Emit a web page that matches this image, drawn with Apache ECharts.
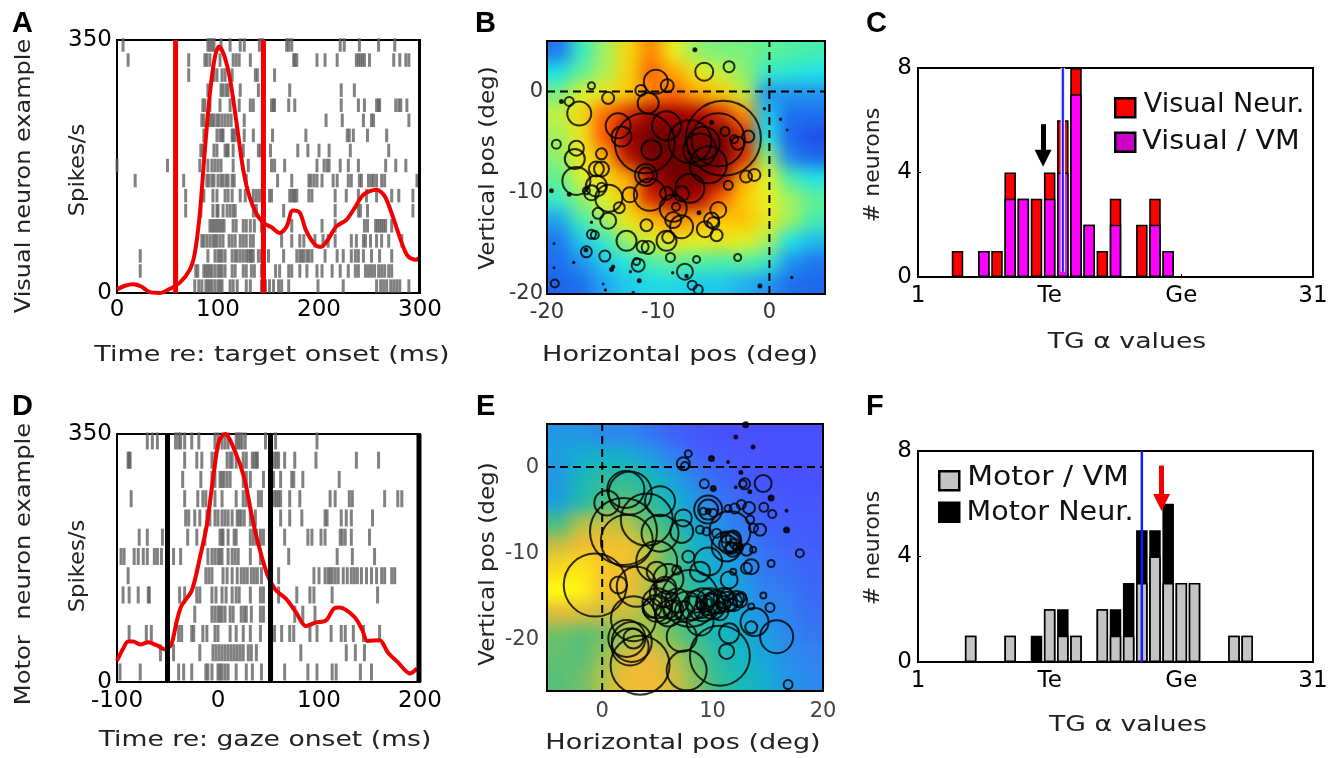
<!DOCTYPE html>
<html><head><meta charset="utf-8">
<script src="https://cdn.jsdelivr.net/npm/echarts@6/dist/echarts.min.js"></script>
<style>
html,body{margin:0;padding:0;background:#fff;width:1341px;height:758px;overflow:hidden}
#main{position:absolute;left:0;top:0;width:1341px;height:758px;z-index:2}
.clip{position:absolute;overflow:hidden;z-index:1}
.heat{position:absolute;filter:blur(8px)}
</style></head><body>
<div class="clip" style="left:547px;top:41px;width:278px;height:253px"><div id="heatB" class="heat" style="left:-23px;top:-21px;width:324px;height:295px"></div></div>
<div class="clip" style="left:547px;top:424px;width:276px;height:267px"><div id="heatE" class="heat" style="left:-23px;top:-22px;width:322px;height:311px"></div></div>
<div id="main"></div>
<script>
// ---------- Panel A ----------
const rasterA = [
 [6,90,92,94,96,103,112,122,126,141,144,168,170,173,221,225,240,259,275],
 [11,71,87,89,92,102,115,118,121,132,175,176,178,198,206,218,237,239,241,243,245,250,274,280,286,289],
 [71,96,99,104,107,114,137,139,156],
 [90,103,105,108,110,122,140,171,222,235],
 [85,87,92,102,112,121,132,135,153,155,156,170,176,222,239,245,257,259,260,276,279,281,287],
 [84,86,92,94,96,99,101,104,107,110,113,126,207,223,244,252,254,289],
 [86,99,102,104,105,114,115,117,126,135,154,187,228,230,234,248,267],
 [83,85,96,99,107,109,110,115,125,140,142,152,179,189,200,210,231,269],
 [0,50,82,90,94,97,100,103,115,130,153,156,166,198,205,208,210,221,229,239,266,276,286],
 [18,66,89,91,94,96,100,103,105,108,110,114,116,128,159,173,190,192,195,198,203,214,218,229,232,240,242,249,252,254,257,262,265,297],
 [68,86,95,99,107,110,114,122,127,135,138,141,151,153,171,173,175,176,178,190,193,216,227,239,247,257,272,279,293],
 [68,83,95,99,100,105,109,112,115,117,135,138,165,216,239,241,248,293],
 [92,94,96,98,100,102,104,106,115,118,125,128,132,136,143,173,203,216,245,248,256,258,260,262,264,266,272],
 [84,86,89,92,95,97,99,102,105,111,114,117,122,125,128,132,135,163,173,181,185,196,204,209,216,232,237,244,246,251,257,262,269,282],
 [23,90,97,100,102,104,107,114,117,119,122,125,128,130,132,133,135,140,143,150,165,178,181,183,185,188,190,193,206,218,224,232,236,239,244,252,260,272],
 [23,78,80,86,88,90,92,94,97,100,102,104,107,114,117,125,128,133,136,143,157,161,170,173,181,188,198,203,213,221,229,236,239,246,249,252,255,259,262,265,269,272],
 [77,81,84,88,90,92,94,97,100,102,104,112,115,119,128,132,143,147,151,155,160,163,170,199,224,257,261,264,267,271,274,277,280,289]
];
const rateA = [[0,5],[8,10],[16,12],[24,9],[32,1.4],[42,0],[52,5.5],[62,14],[72,32],[77,55],[82,110],[87,198],[92,276],[97,327],[101,341],[106,329],[112,295],[118,239],[125,170],[131,134],[138,110],[145,97],[153,91],[161,83],[168,92],[174,114],[181,111],[187,87],[196,67],[202,64],[209,74],[217,92],[227,101],[235,117],[244,136],[257,143],[265,134],[273,106],[282,69],[288,51],[296,46],[300,49]];
const markersA = [58,145];
// ---------- Panel D ----------
const rasterD = [
 [-70,-65,-60,-42,-39,-37,-33,-26,-19,-3,0,4,7,10,18,20,22,24,27,47,57,98],
 [-89,-88,-87,-33,-21,-16,-6,-3,9,12,14,18,25,28,34,36,38,39,53,56,58,60,66,76,97,137,159],
 [-35,-17,-6,-3,2,4,6,9,12,25,28,32,45,55,62,73,75,84,120],
 [-86,-33,-20,-15,-12,-3,4,18,25,28,40,43,53,56,58,60,62,71,81,111,116,130,133,165,178,182],
 [-32,-29,-23,-18,-11,-8,-3,0,4,7,10,14,19,21,23,26,32,37,53,62,71,83,106,108,122,127,132,153],
 [-78,-70,-55,-30,-21,-13,2,4,5,10,16,18,32,35,38,42,45,53,66,89,93,102,106,121,123,126,132,150],
 [-96,-93,-83,-79,-74,-70,-63,-60,-56,-44,-37,-10,-6,-3,0,2,4,10,14,17,20,32,42,70,118,133,155],
 [-89,-12,-9,-6,5,9,14,19,23,26,29,33,36,39,43,52,60,95,100,106,109,111,113,116,119,124,128,132,135,138,142,147,152,157,162,165,172,175],
 [-94,-88,-79,-69,-68,-38,-33,-21,-18,-6,-2,4,8,14,18,21,32,42,45,60,78,91,95,113,158],
 [-23,-6,-3,0,2,4,7,12,15,23,26,28,33,42,45,76,84,96],
 [-88,-71,-66,-39,-36,-26,-24,-15,-11,-3,0,12,18,25,32,42,53,56,63,71,75,91,98,112,122,126,134,144,160],
 [-57,-44,-18,-5,-2,1,4,7,10,13,16,19,22,25,30,33,38,82,127,136,145],
 [-97,-77,-39,-34,-26,-12,-10,-6,0,2,4,7,10,18,28,34,43,66,89,98,113,117,141,152]
];
const rateD = [[-100,30],[-94,47],[-89,57],[-84,57],[-77,53],[-69,56],[-61,52],[-52,46],[-46,54],[-41,85],[-36,108],[-26,129],[-18,175],[-11,222],[-4,297],[1,340],[7,350],[17,325],[26,288],[34,231],[41,189],[49,151],[57,130],[67,118],[77,99],[87,79],[97,84],[107,87],[115,104],[120,105],[135,92],[143,73],[148,58],[160,59],[168,42],[178,28],[190,12],[197,19]];
const markersD = [-50,52,199];
// ---------- Panel B ----------
const fieldB = [
 [10,35,50,65,75,60,48,45,45,42,40,38],
 [30,42,52,66,78,72,62,55,48,35,32,30],
 [45,58,62,68,75,78,72,68,55,15,15,15],
 [55,65,78,85,92,92,90,85,75,25,8,8],
 [50,62,80,92,100,100,98,100,85,30,5,0],
 [48,62,72,88,100,100,100,100,85,48,12,5],
 [42,58,65,72,90,100,100,92,72,60,38,30],
 [35,48,58,70,85,92,90,78,68,60,50,42],
 [18,38,50,62,70,75,72,68,70,62,50,38],
 [10,25,35,50,58,62,60,62,60,52,30,22],
 [8,15,25,32,38,42,40,38,40,35,15,10],
 [5,8,18,25,28,28,25,25,20,15,8,6]
];
const neuronsB = [[-5.86,1.96,18],[-3.63,2.46,11],[-10.21,.97,24],[-9.19,.58,13],[-16,.58,7],[-11.56,.12,11],[-14.5,-.64,12],[-18,-.97,9],[-10.9,-1.14,21],[-17.1,-2.16,24],[-13.6,-3.38,25],[-13.3,-4.44,20],[-9.25,-3.38,29],[-11.2,-5.1,60],[-10.6,-5.76,20],[-7.15,-4.93,43],[-6.25,-5.76,33],[-4.14,-4.6,75],[-4.6,-4.77,53],[-5.95,-5.1,33],[-4,-3.94,9],[-3.18,-4.7,8],[-2.85,-5.1,13],[-1.9,-4.44,12],[-5.5,-7.24,37],[-19.16,-5.2,9],[-17.36,-5.6,15],[-17.5,-6.65,20],[-15.1,-6.15,11],[-15.56,-7.64,15],[-15.1,-7.64,15],[-17.36,-8.83,28],[-11.1,-8.23,15],[-11.1,-8.23,22],[-7.15,-9.55,29],[-10.75,-10.2,32],[-12.55,-10.2,15],[-9.25,-10.05,13],[-7.9,-10.1,15],[-2.1,-8.4,12],[-1.35,-8.23,12],[-3.7,-9.26,9],[-15.56,-9.32,21],[-16,-10,15],[-16.46,-9.8,7],[-15.1,-9.46,9],[-14.44,-10.54,27],[-13.5,-11.47,11],[-8.65,-11.53,27],[-8.4,-11.37,8],[-4.6,-11.7,16],[-15.4,-12.03,11],[-14.5,-12.76,16],[-8.65,-12.7,16],[-7.9,-13.35,23],[-5.2,-12.7,15],[-5.05,-13,12],[-5.8,-13.6,16],[-4.75,-14.2,12],[-11.05,-13.2,12],[-12.85,-14.74,20],[-9.25,-14.74,20],[-9.1,-14.4,12],[-11.4,-15.33,12],[-10.9,-15.4,13],[-16,-14.1,9],[-15.7,-14.17,8],[-16.46,-15.83,11],[-14.8,-16.25,11],[-8.9,-16.39,9],[-6.55,-16.58,7],[-2.85,-16.39,7],[-11.8,-17.15,13],[-11.95,-16.8,7],[-7.6,-17.8,16],[-6.94,-19.13,9],[-6.4,-19.55,9],[-19.3,-18.96,8],[-6.7,4.14,3],[-19.6,-9.8,3],[-18,-10.15,3],[-5.2,-3.05,3],[-6.33,-11.96,3],[-16.5,-15.66,3],[-14.2,-17.57,3],[-14.05,-17.3,2.5],[-11.7,-18.7,3],[-7.45,-18.23,2.5],[-.85,-19.2,3],[-18.7,-.97,3],[-.45,-1.7,1.5],[1,-2.72,1.5],[1.6,-3.8,1],[2,-18.37,1.5],[-17.6,-16.88,1.5],[-16,-12.92,1.5],[-19.37,-15,1],[-12.5,-17.8,1.5],[-14.75,-19.6,1.5],[-12.25,-19.85,1.5],[-8.7,-17.9,1.5],[-14.95,-19,1],[-19.37,-17.4,1]];
const colorsB = ['#1c50ea','#1f78f0','#1fb0f0','#1fe4e6','#50f0a0','#a0f060','#e8f020','#ffc000','#ff5000','#a80000','#700000'];
// ---------- Panel E ----------
const fieldE = [
 [25,25,20,20,14,8,3,1,0,0,0,0],
 [28,35,38,35,28,18,8,4,2,0,0,0],
 [25,42,50,50,42,30,18,10,5,2,0,0],
 [28,45,55,58,50,38,25,15,10,5,3,2],
 [55,72,75,72,60,48,32,22,15,8,5,4],
 [75,82,85,85,70,55,38,28,20,12,8,5],
 [92,95,88,82,72,58,42,32,25,15,12,8],
 [100,98,86,82,72,58,48,38,28,18,15,10],
 [78,78,75,74,68,58,48,40,30,22,18,12],
 [62,58,62,68,70,62,52,42,35,28,20,15],
 [60,58,68,78,80,72,60,46,40,30,22,18],
 [58,62,72,82,82,76,65,50,42,35,25,20]
];
const neuronsE = [[-.63,-13.7,63],[2.14,-2.6,37],[2.53,-3,43],[.42,-4.16,25],[5.24,-3.97,30],[4.04,-6.1,52],[1.93,-7.47,67],[2.23,-8.56,52],[5.24,-7.67,37],[4.94,-10.97,41],[4.94,-12.14,20],[1.48,-13.7,17],[3.13,-13.9,40],[2.83,-17.6,45],[2.23,-19.9,37],[2.68,-20.3,40],[2.83,-19.9,20],[2.53,-20.9,37],[3.43,-23,59],[7.65,-23.6,40],[10.66,-21.9,60],[11.27,-21.4,15],[7.2,-19.7,30],[11.5,-19.3,20],[15.8,-19.7,33],[13.8,-18,28],[13.5,-18.6,12],[15.2,-16.3,9],[14.6,-14.9,6],[13.5,-16.2,6],[16.84,-25.25,9],[17.9,-10,8],[15.3,-11.2,7],[16.7,-7.3,5],[15.3,-3.6,5],[16.7,-5.06,2],[15.4,-5.45,8],[14.64,-4.67,9],[14.3,-7.28,12],[13.7,-7.08,9],[13.4,-6.1,8],[13.3,-4.75,12],[12.6,-4.36,9],[12,-4.82,10],[11.4,-4.82,7],[11.57,-7.47,41],[11.27,-9.22,30],[11.7,-8.64,20],[11.87,-8.25,15],[11.7,-9.4,12],[12.3,-9.4,10],[9.6,-4.94,28],[9.6,-4.94,20],[10.06,-5.33,8],[9.16,-5.14,7],[9.6,-5.14,5],[7.35,-5.9,17],[8.86,-7.28,8],[7.2,-7.47,23],[9.46,-7.47,8],[10.36,-7.67,9],[13.07,-9.6,12],[13.67,-9.6,6],[13.5,-11.56,15],[13.07,-11.75,11],[11.87,-12.14,6],[11.5,-13.1,17],[9.6,-10.97,28],[8.86,-12.14,20],[7.8,-10.4,12],[6.75,-11.95,9],[7.95,-15.25,57],[5.54,-14.67,27],[5.84,-16,27],[4.94,-16.4,27],[6.45,-16.6,20],[7.65,-16.2,30],[9.16,-16,33],[9.76,-15.64,27],[10.36,-15.64,23],[9.3,-15.84,17],[9.46,-15.84,10],[8.86,-16,8],[11.27,-15.64,20],[12.17,-15.25,15],[10.96,-15.84,15],[11.7,-16,12],[8.86,-18,27],[10.66,-16.8,17],[5.54,-17.2,17],[4.5,-16.4,19],[7.35,.39,13],[7.5,.12,8],[7.8,1.56,7],[9.9,1,5],[9.25,-1.95,9],[10.06,-2.5,5],[12.9,-1.95,11],[12.77,-1.95,7],[14.58,-1.9,17],[13,4.9,5],[12.1,3.5,3],[13.67,2.33,3],[11.4,.58,2],[12.56,-.62,3],[12.1,-2.33,2],[13.37,-2.88,3],
 [8.5,-15.6,22],[10,-16.2,25],[11,-15.2,20],[12.6,-15.1,10],[11.9,-15.7,18],[12.5,-15.5,14],[6.8,-15.5,24],[7.4,-16.6,18],[5,-15.8,30],[6,-17,26],[8.2,-16.4,24],[9.8,-15.4,14],[10.6,-16.3,12],[11.3,-14.8,12],[9,-16.6,16],[5.7,-14,22],[6,-13,30],[11.4,-9,18],[12,-8.9,10],[11.8,-9.6,14],[11.2,-8.2,10]];
const colorsE = ['#4850ff','#3c68f8','#2c88ee','#18a4dc','#10b8c0','#30bc98','#60c070','#a8c448','#f0b838','#f8cc20','#ffff10'];
// ---------- Panel C ----------
const binsC = [4,6,7,8,9,10,11,12,13,14,15,16,18,19,20];
const visualVM = [0,1,0,3,3,0,3,4,7,2,0,2,0,2,1];
const visualNeur = [1,0,1,1,0,3,1,2,1,0,1,1,2,1,0];
const medianC = 12;
const arrowC = [10.5,5.85,4.55];
// ---------- Panel F ----------
const binsF = [5,8,10,11,12,13,15,16,17,18,19,20,21,22,25,26];
const motorVM = [1,1,0,2,1,1,2,1,1,3,4,3,3,3,1,1];
const motorNeur = [0,0,1,0,1,0,0,1,2,2,1,3,0,0,0,0];
const medianF = 18;
const arrowF = [19.5,7.45,6.05];
// ---------- Text ----------
const tgTicks = {1:'1',11:'Te',21:'Ge',31:'31'};
const panelLetters = [['A',12,9],['B',475,9],['C',866,9],['D',12,392],['E',476,392],['F',866,392]];
const axisTitles = [
 ['Time re: target onset (ms)',272,355,0,1.228],['Horizontal pos (deg)',680,355,0,1.233],['TG α values',1127,342,0,1.215],
 ['Time re: gaze onset (ms)',265,740,0,1.21],['Horizontal pos (deg)',683,743,0,1.23],['TG α values',1128,725,0,1.21],
 ['Visual neuron example',24,176,1,1.09],['Spikes/s',78,170,1,1.03],['Vertical pos (deg)',488,168,1,1.05],['# neurons',873,165,1,1],
 ['Motor  neuron example',24,564,1,1.1],['Spikes/s',78,566,1,1.03],['Vertical pos (deg)',488,564,1,1.05],['# neurons',873,548,1,1]
];
const legendTexts = [['Visual Neur.',1224,105,1.04],['Visual / VM',1221,142,1.1],['Motor / VM',1048,478,1.15],['Motor Neur.',1050,513,1.1]];

const FONT='"DejaVu Sans"';
const rect=(l,t,w,h)=>({left:l,top:t,width:w,height:h,show:true,borderColor:'#000',borderWidth:2,backgroundColor:'transparent',containLabel:false});
const grids=[rect(117,40,303,253),rect(547,41,278,253),rect(918,68,395,209),rect(117,434,303,248),rect(547,424,276,267),rect(918,451,395,211)];
const labelBase=(size,color,margin)=>({show:true,fontFamily:FONT,fontSize:size,color:color,margin:margin});
function axis(gi,extra){return Object.assign({gridIndex:gi,type:'value',splitLine:{show:false},axisLine:{show:true,onZero:false,lineStyle:{color:'#000',width:2}},axisTick:{show:false}},extra);}
const xAxes=[
 axis(0,{min:0,max:300,interval:100,axisLabel:labelBase(23,'#000',6)}),
 axis(1,{min:-20,max:5,axisLabel:Object.assign(labelBase(21,'#333',8),{customValues:[-20,-10,0]})}),
 axis(2,{min:1,max:31,axisLabel:Object.assign(labelBase(23,'#000',8),{customValues:[1,11,21,31],formatter:v=>tgTicks[v]}),axisTick:{show:true,inside:true,length:3,customValues:[11,21],lineStyle:{color:'#000'}}}),
 axis(3,{min:-100,max:200,interval:100,axisLabel:labelBase(23,'#000',8)}),
 axis(4,{min:-5,max:20,axisLabel:Object.assign(labelBase(21,'#444',10),{customValues:[0,10,20]})}),
 axis(5,{min:1,max:31,axisLabel:Object.assign(labelBase(23,'#000',8),{customValues:[1,11,21,31],formatter:v=>tgTicks[v]}),axisTick:{show:true,inside:true,length:3,customValues:[11,21],lineStyle:{color:'#000'}}})
];
const yAxes=[
 axis(0,{min:0,max:350,interval:350,axisLabel:labelBase(23,'#000',5)}),
 axis(1,{min:-20,max:5,axisLabel:Object.assign(labelBase(21,'#333',4),{customValues:[-20,-10,0]})}),
 axis(2,{min:0,max:8,interval:4,axisLabel:labelBase(23,'#000',6),axisTick:{show:true,inside:true,length:3,lineStyle:{color:'#000'}}}),
 axis(3,{min:0,max:350,interval:350,axisLabel:labelBase(23,'#000',5)}),
 axis(4,{min:-26,max:5,axisLabel:Object.assign(labelBase(21,'#444',8),{customValues:[-20,-10,0]})}),
 axis(5,{min:0,max:8,interval:4,axisLabel:labelBase(23,'#000',6),axisTick:{show:true,inside:true,length:3,lineStyle:{color:'#000'}}}),
 {gridIndex:0,type:'value',show:false,inverse:true,min:-0.33,max:16.46},
 {gridIndex:3,type:'value',show:false,inverse:true,min:-0.36,max:12.52}
];
const rasterPts=r=>r.flatMap((row,i)=>row.map(t=>[t,i]));
const rasterSeries=(name,r,xi,yi,h)=>({name,type:'scatter',xAxisIndex:xi,yAxisIndex:yi,data:rasterPts(r),symbol:'rect',symbolSize:[3,h],itemStyle:{color:'#626262'},z:1,silent:true});
const lineSeries=(name,data,xi,yi,color,width,z,extra)=>Object.assign({name,type:'line',xAxisIndex:xi,yAxisIndex:yi,data,symbol:'none',lineStyle:{color,width},z,silent:true},extra||{});
const vertical=(xs,lo,hi,xi,yi,color,width,z)=>xs.map((x,k)=>lineSeries('marker'+xi+k,[[x,lo],[x,hi]],xi,yi,color,width,z));
const dashed={lineStyle:{color:'#000',width:2,type:[8,5]}};
const circleSeries=(name,d,xi,yi)=>({name,type:'scatter',xAxisIndex:xi,yAxisIndex:yi,data:d,symbol:'circle',symbolSize:v=>v[2],itemStyle:{color:'transparent',borderColor:'#000',borderWidth:2},z:4,silent:true});
const dots=(name,d,xi,yi)=>({name,type:'scatter',xAxisIndex:xi,yAxisIndex:yi,data:d.filter(v=>v[2]<=5),symbol:'circle',symbolSize:v=>v[2],itemStyle:{color:'#000'},z:4,silent:true});
// the picture's stacks are drawn as the full column behind the lower segment
const barSeries=(name,bins,vals,base,xi,yi,fill,z)=>({name,type:'bar',xAxisIndex:xi,yAxisIndex:yi,barGap:'-100%',
  data:bins.map((b,i)=>[b,vals[i]+base[i]]).filter(p=>p[1]>0),barWidth:11.5,itemStyle:{color:fill,borderColor:'#000',borderWidth:1.6},z,silent:true});
const zeros=a=>a.map(()=>0);
const arrow=(x,hi,lo,color)=>({silent:true,animation:false,symbol:['none','triangle'],symbolSize:17,label:{show:false},lineStyle:{color,width:5,type:'solid'},data:[[{coord:[x,hi]},{coord:[x,lo]}]]});

const series=[
 rasterSeries('raster A',rasterA,0,6,13.5),
 lineSeries('rate A',rateA,0,0,'#f00000',4,3,{smooth:0.3}),
 ...vertical(markersA,0,350,0,0,'#f00000',5,4),
 lineSeries('frame A',[[299.5,0],[299.5,350]],0,0,'#000',3,4),
 rasterSeries('raster D',rasterD,3,7,17),
 lineSeries('rate D',rateD,3,3,'#f00000',4,3,{smooth:0.3}),
 ...vertical(markersD,0,350,3,3,'#000',5,4),
 lineSeries('v0 B',[[0,-20],[0,5]],1,1,'#000',2,3,dashed),
 lineSeries('h0 B',[[-20,0],[5,0]],1,1,'#000',2,3,dashed),
 circleSeries('neurons B',neuronsB,1,1),dots('dots B',neuronsB,1,1),
 lineSeries('v0 E',[[0,-26],[0,5]],4,4,'#000',2,3,dashed),
 lineSeries('h0 E',[[-5,0],[20,0]],4,4,'#000',2,3,dashed),
 circleSeries('neurons E',neuronsE,4,4),dots('dots E',neuronsE,4,4),
 barSeries('Visual Neur.',binsC,visualNeur,visualVM,2,2,'#ff0000',2),
 barSeries('Visual / VM',binsC,visualVM,zeros(visualVM),2,2,'#ff00ff',3),
 lineSeries('median halo C',[[medianC,0.2],[medianC,8]],2,2,'#e8e8ff',4.5,5),
 lineSeries('median C',[[medianC,0.2],[medianC,8]],2,2,'#1818ff',2,6,{markLine:arrow(arrowC[0],arrowC[1],arrowC[2],'#000')}),
 barSeries('Motor Neur.',binsF,motorNeur,motorVM,5,5,'#000',2),
 barSeries('Motor / VM',binsF,motorVM,zeros(motorVM),5,5,'#c4c4c4',3),
 lineSeries('median F',[[medianF,0],[medianF,8]],5,5,'#1818ff',2.5,6,{markLine:arrow(arrowF[0],arrowF[1],arrowF[2],'#f00000')})
];
const legendBase=(l,t,gap,data)=>({left:l,top:t,padding:0,orient:'vertical',itemWidth:20,itemHeight:19,itemGap:gap,icon:'rect',selectedMode:false,formatter:()=>'',textStyle:{fontSize:1},data});
const legends=[
 legendBase(1114,97,13,[{name:'Visual Neur.',itemStyle:{color:'#ff0000',borderColor:'#000',borderWidth:2.5}},{name:'Visual / VM',itemStyle:{color:'#c800c8',borderColor:'#000',borderWidth:2.5}}]),
 legendBase(938,470,10,[{name:'Motor / VM',itemStyle:{color:'#c4c4c4',borderColor:'#000',borderWidth:2.5}},{name:'Motor Neur.',itemStyle:{color:'#000',borderColor:'#000',borderWidth:2.5}}])
];
const graphics=[
 ...panelLetters.map(p=>({type:'text',x:p[1],y:p[2],style:{text:p[0],font:'bold 29px "Liberation Sans"',fill:'#000'}})),
 ...axisTitles.map(t=>({type:'text',x:t[1],y:t[2],rotation:t[3]?Math.PI/2:0,scaleX:t[4],style:{text:t[0],font:'22px '+FONT,fill:'#222',align:'center',verticalAlign:'middle'}})),
 ...legendTexts.map(t=>({type:'text',x:t[1],y:t[2],scaleX:t[3],style:{text:t[0],font:'26px '+FONT,fill:'#111',align:'center',verticalAlign:'middle'}}))
];
const main=echarts.init(document.getElementById('main'),null,{renderer:'canvas',width:1341,height:758});
main.setOption({animation:false,backgroundColor:'transparent',tooltip:{show:false},grid:grids,xAxis:xAxes,yAxis:yAxes,legend:legends,series,graphic:graphics});

function drawField(id,field,colors){
 const n=field.length, idx=[...Array(n+2).keys()];
 const clamp=i=>Math.max(0,Math.min(n-1,i-1));
 const data=[];
 idx.forEach(r=>idx.forEach(c=>data.push([c,r,field[clamp(r)][clamp(c)]])));
 const ch=echarts.init(document.getElementById(id),null,{renderer:'canvas'});
 ch.setOption({animation:false,grid:{left:0,right:0,top:0,bottom:0},
  xAxis:{type:'category',data:idx,show:false},yAxis:{type:'category',data:idx,show:false,inverse:true},
  visualMap:{show:false,min:0,max:100,dimension:2,inRange:{color:colors}},
  series:[{type:'heatmap',data,progressive:0,silent:true,itemStyle:{borderWidth:0}}]});
}
drawField('heatB',fieldB,colorsB);
drawField('heatE',fieldE,colorsE);
</script></body></html>
